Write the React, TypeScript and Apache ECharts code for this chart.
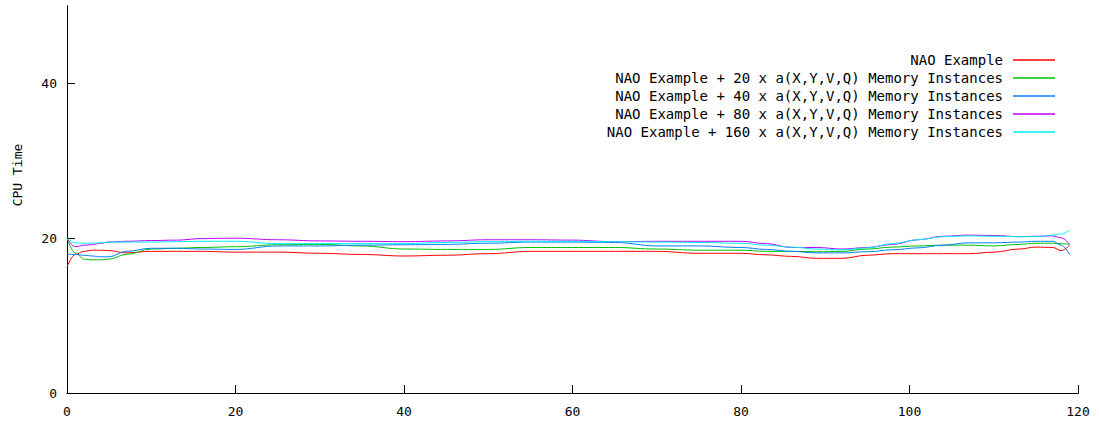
import React, { useEffect, useRef } from "react";
import * as echarts from "echarts";

const xs = [0, 1, 2, 3, 4, 5, 7, 10, 13, 16, 20, 25, 30, 35, 40, 45, 50, 55, 60, 65, 70, 75, 80, 83, 86, 89, 92, 95, 98, 101, 104, 107, 110, 113, 115, 117, 118, 119];

const nao = [16.3, 17.9, 18.3, 18.45, 18.45, 18.4, 18.1, 18.3, 18.3, 18.3, 18.2, 18.2, 18.05, 17.9, 17.7, 17.8, 18.0, 18.3, 18.3, 18.3, 18.3, 18.05, 18.05, 17.85, 17.65, 17.4, 17.4, 17.8, 18.0, 18.0, 18.0, 18.0, 18.2, 18.6, 18.85, 18.8, 18.4, 19.1];
const nao20 = [20.0, 18.1, 17.3, 17.2, 17.2, 17.3, 17.9, 18.6, 18.7, 18.8, 18.9, 19.15, 19.2, 19.0, 18.6, 18.55, 18.55, 18.8, 18.8, 18.8, 18.6, 18.45, 18.45, 18.3, 18.3, 18.25, 18.3, 18.6, 18.85, 19.0, 19.1, 19.1, 19.0, 19.2, 19.35, 19.35, 19.3, 19.2];
const nao40 = [17.95, 17.9, 17.8, 17.7, 17.6, 17.6, 18.3, 18.7, 18.7, 18.6, 18.55, 19.0, 19.0, 19.1, 19.15, 19.2, 19.35, 19.5, 19.5, 19.45, 19.0, 19.0, 18.8, 18.55, 18.3, 18.1, 18.1, 18.25, 18.5, 18.75, 19.1, 19.4, 19.4, 19.5, 19.6, 19.6, 19.1, 17.9];
const nao80 = [20.0, 18.9, 19.1, 19.15, 19.35, 19.5, 19.6, 19.7, 19.75, 19.95, 20.0, 19.8, 19.65, 19.6, 19.55, 19.65, 19.8, 19.8, 19.75, 19.55, 19.6, 19.6, 19.6, 19.3, 18.8, 18.8, 18.6, 18.8, 19.2, 19.8, 20.25, 20.4, 20.35, 20.2, 20.25, 20.3, 20.05, 19.2];
const nao160 = [20.0, 19.4, 19.35, 19.35, 19.4, 19.5, 19.5, 19.5, 19.55, 19.6, 19.6, 19.3, 19.3, 19.3, 19.3, 19.45, 19.55, 19.6, 19.6, 19.55, 19.5, 19.45, 19.35, 19.1, 18.85, 18.6, 18.5, 18.75, 19.3, 19.8, 20.2, 20.3, 20.25, 20.2, 20.2, 20.4, 20.55, 21.05];

const seriesNames = [
  "NAO Example",
  "NAO Example + 20 x a(X,Y,V,Q) Memory Instances",
  "NAO Example + 40 x a(X,Y,V,Q) Memory Instances",
  "NAO Example + 80 x a(X,Y,V,Q) Memory Instances",
  "NAO Example + 160 x a(X,Y,V,Q) Memory Instances",
];
const seriesValues = [nao, nao20, nao40, nao80, nao160];
const colors = ["#ff0000", "#00c000", "#0080ff", "#c000ff", "#00eeee"];

const xTicks = [0, 20, 40, 60, 80, 100, 120];
const yTicks = [0, 20, 40];

const MONO = "'DejaVu Sans Mono', monospace";

export default function App() {
  const ref = useRef<HTMLDivElement>(null);
  useEffect(() => {
    if (!ref.current) return;
    const chart = echarts.init(ref.current, null, { renderer: "svg" });
    const axisLine = { show: true, lineStyle: { color: "#000", width: 1 } };
    const tick = { show: true, inside: true, length: 8, lineStyle: { color: "#000", width: 1 } };
    chart.setOption({
      animation: false,
      backgroundColor: "#fff",
      grid: { left: 67, right: 21, top: 6, bottom: 29, containLabel: false },
      legend: {
        orient: "vertical",
        right: 44,
        top: 53,
        padding: 0,
        align: "right",
        icon: "rect",
        itemWidth: 42,
        itemHeight: 1.5,
        itemGap: 4,
        textStyle: { fontFamily: MONO, fontSize: 14, color: "#000", padding: [0, 5, 0, 0] },
        data: seriesNames,
      },
      xAxis: [
        {
          type: "value",
          min: 0,
          max: 120,
          interval: 20,
          axisLine,
          axisTick: { ...tick, customValues: xTicks },
          axisLabel: { fontFamily: MONO, fontSize: 13, color: "#000", margin: 12, customValues: xTicks },
          splitLine: { show: false },
        },
        {
          type: "value",
          position: "top",
          min: 0,
          max: 120,
          interval: 20,
          axisLine,
          axisTick: { show: false },
          axisLabel: { show: false },
          splitLine: { show: false },
        },
      ],
      yAxis: [
        {
          type: "value",
          min: 0,
          max: 50,
          interval: 10,
          axisLine,
          axisTick: { ...tick, customValues: yTicks },
          axisLabel: { fontFamily: MONO, fontSize: 13, color: "#000", margin: 10, customValues: yTicks },
          splitLine: { show: false },
        },
        {
          type: "value",
          position: "right",
          min: 0,
          max: 50,
          interval: 10,
          axisLine,
          axisTick: { show: false },
          axisLabel: { show: false },
          splitLine: { show: false },
        },
      ],
      graphic: [
        {
          type: "text",
          x: 17,
          y: 175,
          rotation: Math.PI / 2,
          style: {
            text: "CPU Time",
            fontFamily: MONO,
            fontSize: 13,
            fill: "#000",
            align: "center",
            verticalAlign: "middle",
          },
        },
      ],
      series: seriesNames.map((name, i) => ({
        name,
        type: "line",
        xAxisIndex: 0,
        yAxisIndex: 0,
        showSymbol: false,
        symbol: "none",
        smooth: 0.4,
        smoothMonotone: "x",
        color: colors[i],
        lineStyle: { color: colors[i], width: 1 },
        data: xs.map((x, j) => [x, seriesValues[i][j]]),
      })),
    });
    return () => chart.dispose();
  }, []);
  return (
    <div
      ref={ref}
      style={{ position: "fixed", left: 0, top: 0, width: 1099, height: 422, background: "#fff" }}
    />
  );
}
